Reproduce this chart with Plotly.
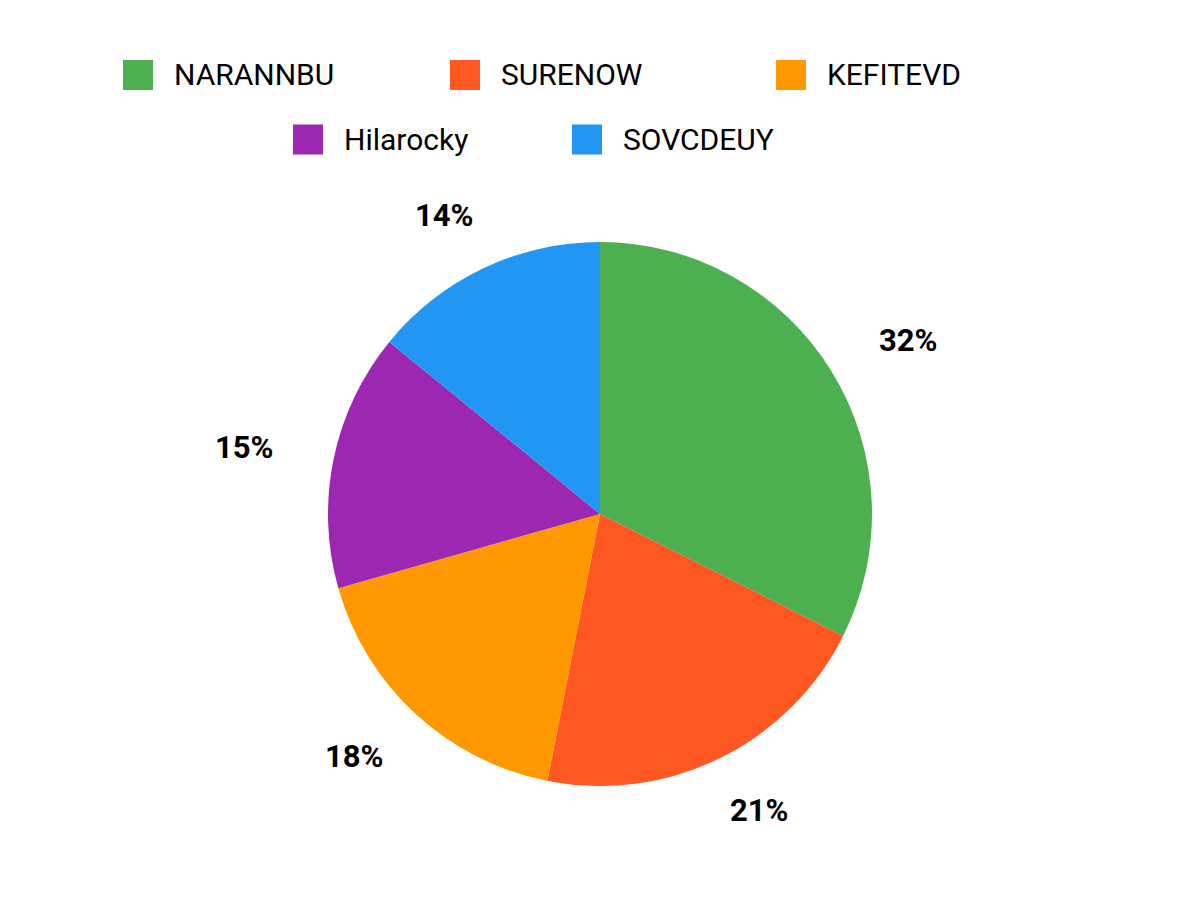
import math
import plotly.graph_objects as go

# ---- data ----
labels = ["NARANNBU", "SURENOW", "KEFITEVD", "Hilarocky", "SOVCDEUY"]
values = [32.4, 20.7, 17.5, 15.3, 14.1]
colors = ["#4CAF50", "#FF5722", "#FF9800", "#9C27B0", "#2196F3"]

# ---- layout constants (window pixels) ----
W, H = 1200, 900
OFF = 8  # page body margin
CX, CY, R = 600, 514, 272
LABEL_PAD_X, LABEL_PAD_Y = 91, 58  # outside-label offsets beyond the rim
FONT = "Roboto"
LABEL_SIZE = 31
LEGEND_SIZE = 30


def px2x(px):
    return (px - OFF) / W


def py2y(py):
    return 1 - (py - OFF) / H


fig = go.Figure()
fig.add_trace(go.Pie(
    labels=labels,
    values=values,
    marker=dict(colors=colors, line=dict(width=0)),
    sort=False,
    direction="clockwise",
    rotation=0,
    textinfo="none",
    hoverinfo="label+percent",
    showlegend=False,
    domain=dict(x=[0, 2 * px2x(CX)], y=[py2y(CY + R), py2y(CY - R)]),
))

annotations = []
shapes = []

# percentage labels outside the slices, placed along each slice's mid-angle
total = sum(values)
cum = 0.0
for v in values:
    mid = (cum + v / 2) / total * 2 * math.pi
    cum += v
    s, c = math.sin(mid), math.cos(mid)
    px = CX + (R + LABEL_PAD_X) * s
    py = CY - (R + LABEL_PAD_Y) * c
    annotations.append(dict(
        x=px2x(px), y=py2y(py), xref="paper", yref="paper",
        text=f"<b>{round(v / total * 100)}%</b>", showarrow=False,
        xanchor="center", yanchor="middle",
        font=dict(family=FONT, size=LABEL_SIZE, color="#000000"),
    ))

# legend (two centred rows)
legend_pos = [(123, 75), (450, 75), (776, 75), (293, 139.5), (572, 139.5)]
BOX = 30
for name, col, (lx, ly) in zip(labels, colors, legend_pos):
    shapes.append(dict(
        type="rect", xref="paper", yref="paper",
        x0=px2x(lx), x1=px2x(lx + BOX),
        y0=py2y(ly + BOX / 2), y1=py2y(ly - BOX / 2),
        fillcolor=col, line=dict(width=0),
    ))
    annotations.append(dict(
        x=px2x(lx + BOX + 19), y=py2y(ly), xref="paper", yref="paper",
        text=name, showarrow=False, xanchor="left", yanchor="middle",
        font=dict(family=FONT, size=LEGEND_SIZE, color="#000000"),
    ))

fig.update_layout(
    width=W, height=H,
    margin=dict(l=0, r=0, t=0, b=0),
    paper_bgcolor="#ffffff",
    plot_bgcolor="#ffffff",
    annotations=annotations,
    shapes=shapes,
    showlegend=False,
)

fig.write_html("out.html")
